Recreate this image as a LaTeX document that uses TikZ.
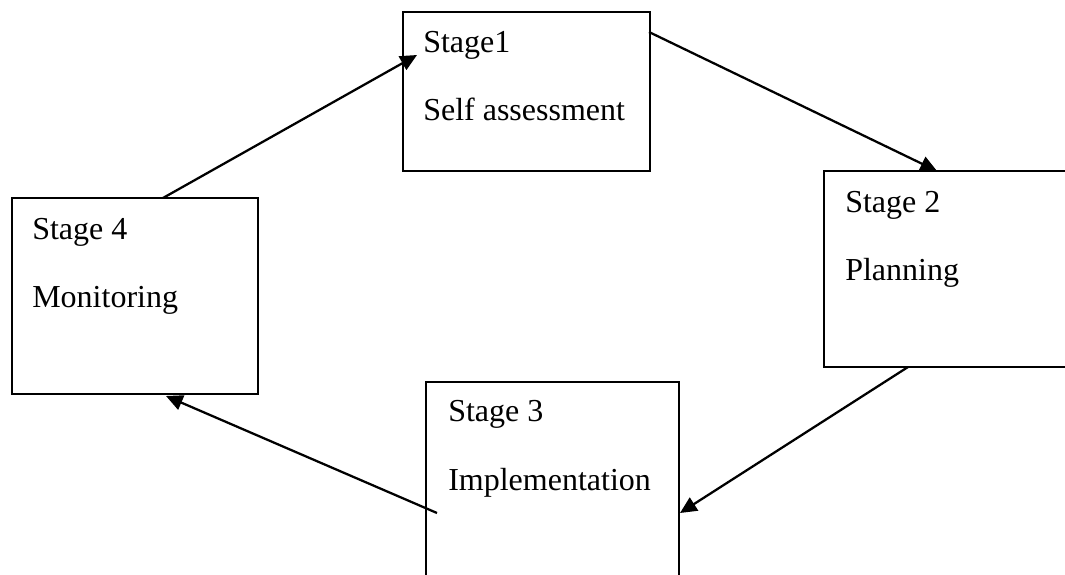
\documentclass[tikz,border=0pt]{standalone}
\usepackage{fontspec}
\setmainfont{Liberation Serif}
\usetikzlibrary{arrows.meta,calc}
\begin{document}
\begin{tikzpicture}[x=0.75pt,y=-0.75pt,
  box/.style={draw,line width=1.5pt,inner sep=0pt,outer sep=0pt},
  lbl/.style={anchor=base west,inner sep=0pt,font=\fontsize{24pt}{28pt}\selectfont},
  conn/.style={line width=1.7pt,-{Triangle[length=12.5pt,width=11.5pt]}}]
\useasboundingbox (0,0) rectangle (1065,575);
\clip (0,0) rectangle (1065,575);
\node[box,minimum width=185.25pt,minimum height=119.25pt] (s1) at (526.5,91.5) {};
\node[box,minimum width=192pt,minimum height=147pt] (s2) at (952,269) {};
\node[box,minimum width=189.75pt,minimum height=156pt] (s3) at (552.5,486) {};
\node[box,minimum width=184.5pt,minimum height=147pt] (s4) at (135,296) {};
\node[lbl] (t1a) at (423,52) {Stage1};
\node[lbl] (t1b) at (423,120) {Self assessment};
\node[lbl] (t2a) at (845,212) {Stage 2};
\node[lbl] (t2b) at (845,280) {Planning};
\node[lbl] (t3a) at (448,421) {Stage 3};
\node[lbl] (t3b) at (448,490) {Implementation};
\node[lbl] (t4a) at (32,239) {Stage 4};
\node[lbl] (t4b) at (32,307) {Monitoring};
\coordinate (a1s) at ($(s1.north east)+(-1,20)$);
\coordinate (a1e) at ($(s2.north west)+(113,0)$);
\coordinate (a2s) at ($(s2.south west)+(84,0)$);
\coordinate (a2e) at ($(s3.north east)+(1,131)$);
\coordinate (a3s) at ($(s3.north west)+(11,131)$);
\coordinate (a3e) at ($(s4.south west)+(154,2)$);
\coordinate (a4s) at ($(s4.north west)+(151,0)$);
\coordinate (a4e) at ($(s1.north west)+(14,43)$);
\draw[conn] (a1s) -- (a1e);
\draw[conn] (a2s) -- (a2e);
\draw[conn] (a3s) -- (a3e);
\draw[conn] (a4s) -- (a4e);
\end{tikzpicture}
\end{document}
